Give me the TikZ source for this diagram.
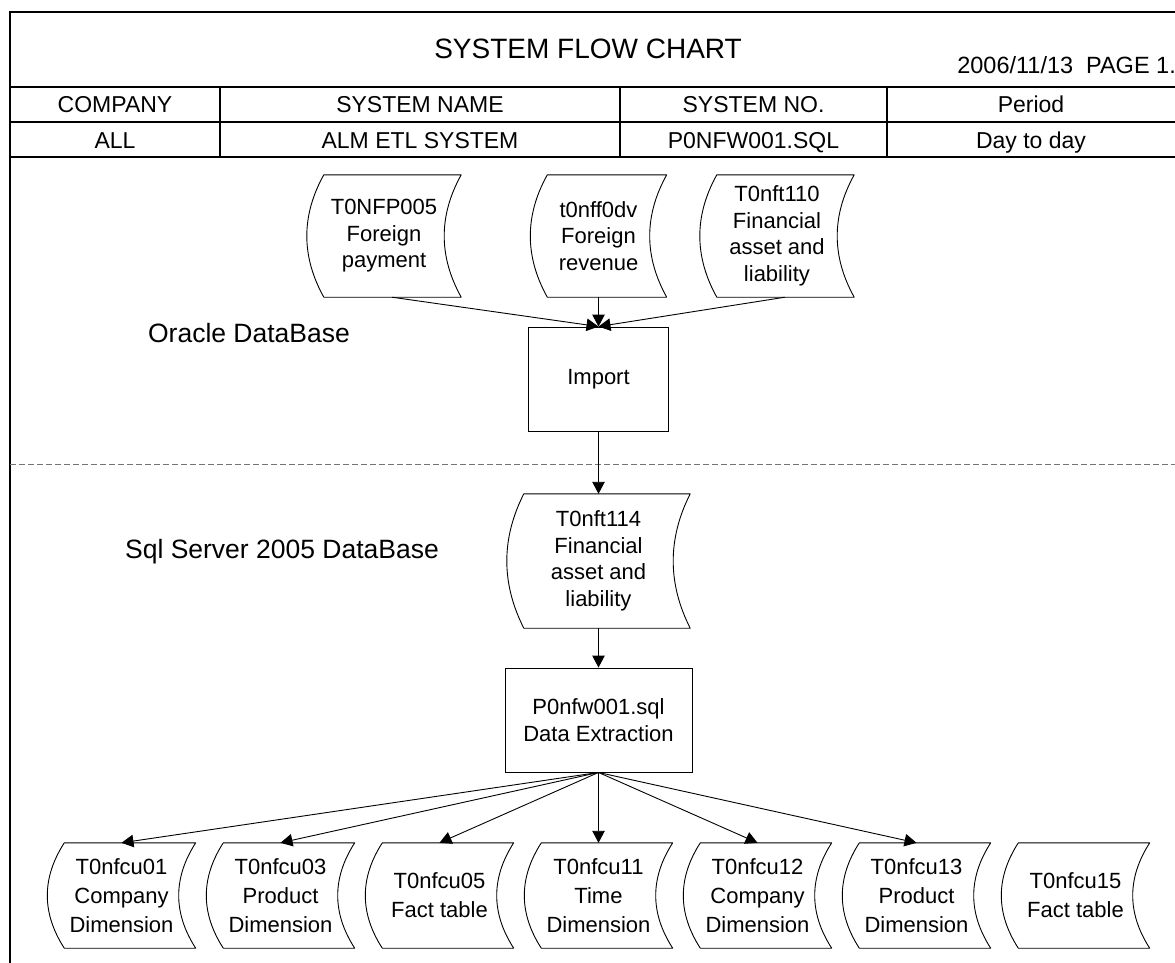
\documentclass[tikz,border=0pt]{standalone}
\usepackage{fontspec}
\setmainfont{Liberation Sans}
\usetikzlibrary{calc,arrows.meta}
\tikzset{
  frameline/.style={line width=1.5pt},
  thinline/.style={line width=0.9pt},
  arr/.style={thinline,-{Triangle[length=12pt,width=12.5pt]}},
  txt/.style={inner sep=0pt, font=\fontsize{#1}{#1}\selectfont},
  topfont/.style={font=\fontsize{22}{26.5}\selectfont},
  botfont/.style={font=\fontsize{22}{29}\selectfont},
  procbox/.style={draw, thinline, align=center, inner sep=0pt, topfont},
  stored/.style n args={3}{align=center, inner sep=0pt, minimum width=#1, minimum height=#2,
    append after command={\pgfextra{
      \draw[thinline, line join=round]
        ($(\tikzlastnode.north west)+(#3,0)$) -- (\tikzlastnode.north east)
        .. controls ($(\tikzlastnode.north east)!0.3333!(\tikzlastnode.south east)+(-#3*4/3,0)$)
               and ($(\tikzlastnode.north east)!0.6667!(\tikzlastnode.south east)+(-#3*4/3,0)$)
        .. (\tikzlastnode.south east)
        -- ($(\tikzlastnode.south west)+(#3,0)$)
        .. controls ($(\tikzlastnode.south west)!0.3333!(\tikzlastnode.north west)+(-#3/3,0)$)
               and ($(\tikzlastnode.south west)!0.6667!(\tikzlastnode.north west)+(-#3/3,0)$)
        .. ($(\tikzlastnode.north west)+(#3,0)$) -- cycle;
    }}}
}
\begin{document}
\begin{tikzpicture}[x=1pt,y=-1pt]
\useasboundingbox (0,0) rectangle (1175,962);
% frame and header table
\draw[frameline] (10,970) -- (10,12) -- (1180,12);
\draw[frameline] (10,87) -- (1180,87) (10,122) -- (1180,122) (10,157) -- (1180,157);
\draw[frameline] (220,87) -- (220,157) (620,87) -- (620,157) (887,87) -- (887,157);
\node[txt=28, anchor=base] (title) at (588,58) {SYSTEM FLOW CHART};
\node[txt=23.5, anchor=base east] (date) at (1176,73) {2006/11/13\hspace{0.55em}PAGE 1.};
\node[txt=23, anchor=base] (h1) at (115,112) {COMPANY};
\node[txt=23, anchor=base] (h2) at (420,112) {SYSTEM NAME};
\node[txt=23, anchor=base] (h3) at (753.5,112) {SYSTEM NO.};
\node[txt=23, anchor=base] (h4) at (1031,112) {Period};
\node[txt=23, anchor=base] (v1) at (115,148) {ALL};
\node[txt=23, anchor=base] (v2) at (420,148) {ALM ETL SYSTEM};
\node[txt=23, anchor=base] (v3) at (753.5,148) {P0NFW001.SQL};
\node[txt=23, anchor=base] (v4) at (1031,148) {Day to day};
% region labels and separator
\node[txt=26.5, anchor=base] (ora) at (249,342) {Oracle DataBase};
\node[txt=26.5, anchor=base] (sql) at (282,558) {Sql Server 2005 DataBase};
\draw[black!55, line width=1pt, dash pattern=on 6pt off 3pt] (10,464) -- (1180,464);
% top sources
\node[stored={154}{122}{17}, topfont] (s1) at (384,236) {T0NFP005\\Foreign\\payment};
\node[stored={136}{122}{17}, topfont] (s2) at (598.5,236) {t0nff0dv\\Foreign\\revenue};
\node[stored={154}{122}{17}, topfont] (s3) at (777,236) {T0nft110\\Financial\\asset and\\liability};
\node[procbox, minimum width=140, minimum height=104] (imp) at (598.5,379) {Import};
\node[stored={183}{134}{17}, topfont] (t114) at (598.5,561) {T0nft114\\Financial\\asset and\\liability};
\node[procbox, minimum width=187, minimum height=104] (ext) at (598.5,720) {P0nfw001.sql\\Data Extraction};
% bottom targets
\node[stored={148}{105}{17}, botfont] (b1) at (121.5,895.5) {T0nfcu01\\Company\\Dimension};
\node[stored={148}{105}{17}, botfont] (b2) at (280.5,895.5) {T0nfcu03\\Product\\Dimension};
\node[stored={148}{105}{17}, botfont] (b3) at (439.5,895.5) {T0nfcu05\\Fact table};
\node[stored={148}{105}{17}, botfont] (b4) at (598.5,895.5) {T0nfcu11\\Time\\Dimension};
\node[stored={148}{105}{17}, botfont] (b5) at (757.5,895.5) {T0nfcu12\\Company\\Dimension};
\node[stored={148}{105}{17}, botfont] (b6) at (916.5,895.5) {T0nfcu13\\Product\\Dimension};
\node[stored={148}{105}{17}, botfont] (b7) at (1075.5,895.5) {T0nfcu15\\Fact table};
% connectors
\draw[arr] ([xshift=8pt]s1.south) -- (imp.north);
\draw[arr] (s2.south) -- (imp.north);
\draw[arr] ([xshift=8pt]s3.south) -- (imp.north);
\draw[arr] (imp.south) -- (t114.north);
\draw[arr] (t114.south) -- (ext.north);
\foreach \b in {b1,b2,b3,b4,b5,b6}
  \draw[arr] (ext.south) -- (\b.north);
\end{tikzpicture}
\end{document}
